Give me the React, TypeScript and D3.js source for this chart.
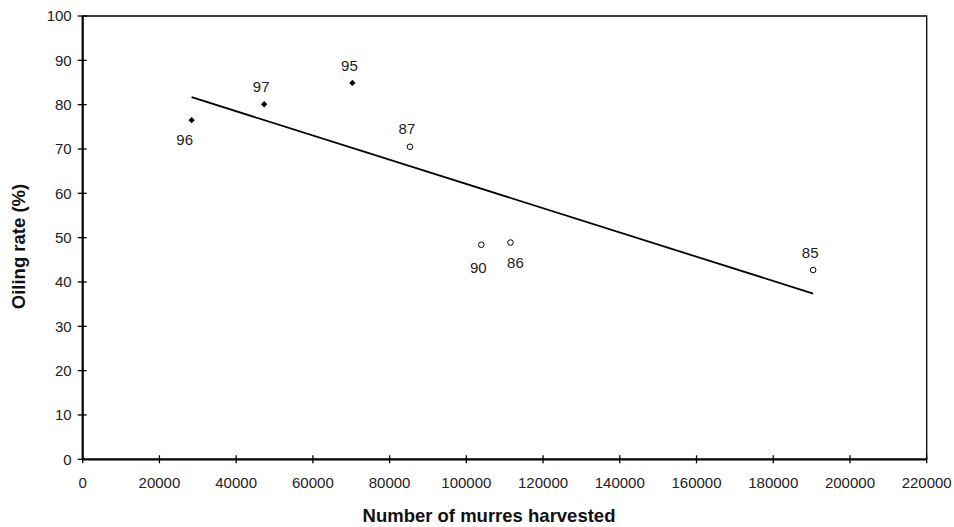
import React, { useEffect, useRef } from 'react';
import * as d3 from 'd3';

// years, harvest counts and oiling rates
const years = ['96', '97', '95', '87', '90', '86', '85'];
const harvested = [28400, 47300, 70300, 85300, 103900, 111500, 190400];
const oilingRate = [76.5, 80.1, 84.9, 70.5, 48.4, 48.9, 42.7];
const recent = [true, true, true, false, false, false, false];
const labelBelow = [true, false, false, false, true, true, false];

const xTicks = d3.range(0, 220001, 20000);
const yTicks = d3.range(0, 101, 10);

const App = () => {
  const ref = useRef<SVGSVGElement>(null);

  useEffect(() => {
    const svg = d3.select(ref.current);
    svg.selectAll('*').remove();

    const left = 82.7, right = 926.7, top = 16, bottom = 459.3;
    const font = 'Liberation Sans, Arial, sans-serif';

    const x = d3.scaleLinear().domain([0, 220000]).range([left, right]);
    const y = d3.scaleLinear().domain([0, 100]).range([bottom, top]);

    // frame: thin top/right
    svg.append('path')
      .attr('d', `M${left},${top} H${right} V${bottom}`)
      .attr('fill', 'none').attr('stroke', '#000').attr('stroke-width', 1.3);

    // axes
    svg.append('line').attr('x1', left).attr('x2', right).attr('y1', bottom).attr('y2', bottom)
      .attr('stroke', '#000').attr('stroke-width', 2.2);
    svg.append('line').attr('x1', left).attr('x2', left).attr('y1', top).attr('y2', bottom)
      .attr('stroke', '#000').attr('stroke-width', 2.2);

    xTicks.forEach(t => {
      svg.append('line').attr('x1', x(t)).attr('x2', x(t)).attr('y1', bottom - 4).attr('y2', bottom + 4)
        .attr('stroke', '#000').attr('stroke-width', 1.3);
      svg.append('text').attr('x', x(t)).attr('y', bottom + 29)
        .attr('text-anchor', 'middle').attr('font-family', font).attr('font-size', 15).attr('fill', '#222')
        .text(t);
    });

    yTicks.forEach(t => {
      svg.append('line').attr('x1', left - 5).attr('x2', left + 4).attr('y1', y(t)).attr('y2', y(t))
        .attr('stroke', '#000').attr('stroke-width', 1.3);
      svg.append('text').attr('x', left - 11).attr('y', y(t)).attr('dy', '0.36em')
        .attr('text-anchor', 'end').attr('font-family', font).attr('font-size', 15).attr('fill', '#222')
        .text(t);
    });

    // least squares trend
    const mx = d3.mean(harvested)!, my = d3.mean(oilingRate)!;
    let sxy = 0, sxx = 0;
    harvested.forEach((h, i) => { sxy += (h - mx) * (oilingRate[i] - my); sxx += (h - mx) ** 2; });
    const slope = sxy / sxx;
    const x0 = d3.min(harvested)!, x1 = d3.max(harvested)!;
    svg.append('line')
      .attr('x1', x(x0)).attr('y1', y(my + slope * (x0 - mx)))
      .attr('x2', x(x1)).attr('y2', y(my + slope * (x1 - mx)))
      .attr('stroke', '#000').attr('stroke-width', 1.8);

    // small label nudges so they sit like the original
    const nudge: Record<string, [number, number]> = { '96': [-7, 0], '90': [-3, 4], '86': [5, 1] };

    harvested.forEach((h, i) => {
      const px = x(h), py = y(oilingRate[i]);
      if (recent[i]) {
        svg.append('path')
          .attr('d', d3.symbol(d3.symbolSquare, 20)())
          .attr('transform', `translate(${px},${py}) rotate(45)`)
          .attr('fill', '#000');
      } else {
        svg.append('circle').attr('cx', px).attr('cy', py).attr('r', 2.8)
          .attr('fill', '#fff').attr('stroke', '#000').attr('stroke-width', 1);
      }
      const [dx, dy] = nudge[years[i]] || [-3, 0];
      svg.append('text')
        .attr('x', px + dx)
        .attr('y', (labelBelow[i] ? py + 24.5 : py - 12.3) + dy)
        .attr('text-anchor', 'middle').attr('font-family', font).attr('font-size', 15).attr('fill', '#222')
        .text(years[i]);
    });

    svg.append('text').attr('x', 489).attr('y', 521.5)
      .attr('text-anchor', 'middle').attr('font-family', font).attr('font-size', 18.5)
      .attr('font-weight', 'bold').attr('fill', '#111')
      .text('Number of murres harvested');

    svg.append('text').attr('transform', `translate(25,246.5) rotate(-90)`)
      .attr('text-anchor', 'middle').attr('font-family', font).attr('font-size', 18.5)
      .attr('font-weight', 'bold').attr('fill', '#111')
      .text('Oiling rate (%)');
  }, []);

  return (
    <svg ref={ref} width={954} height={527}
      style={{ position: 'absolute', left: 0, top: 0, background: '#fff' }} />
  );
};

export default App;
